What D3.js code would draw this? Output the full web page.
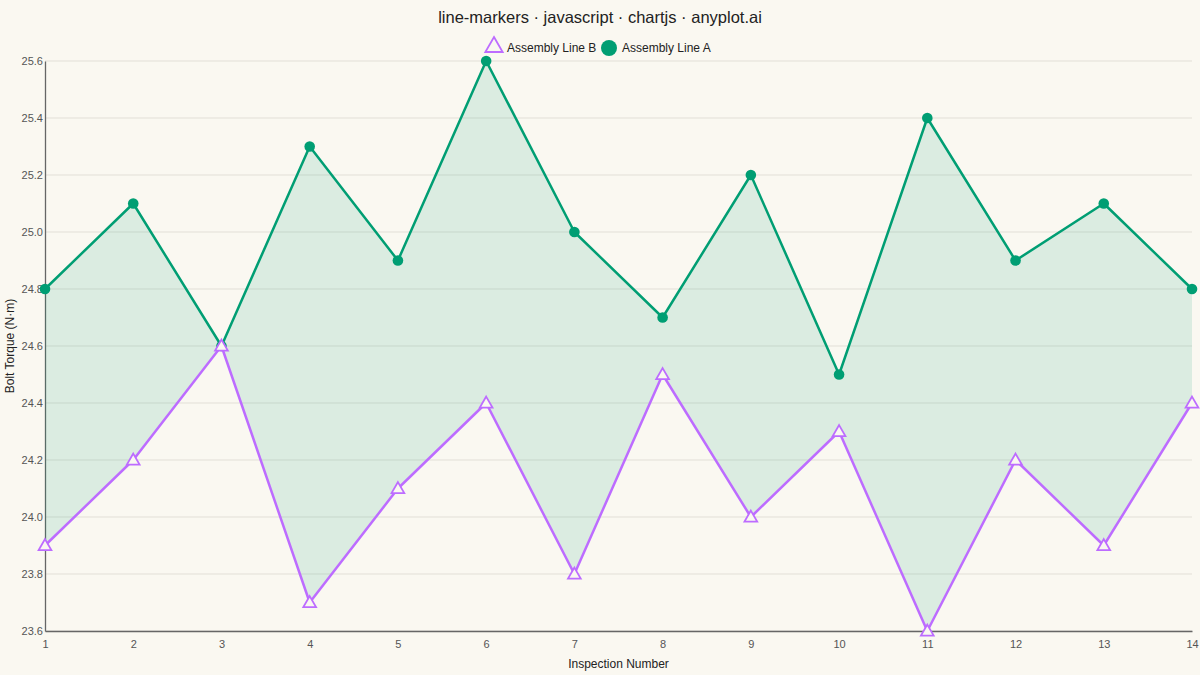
<!DOCTYPE html>
<html><head><meta charset="utf-8">
<script src="https://cdn.jsdelivr.net/npm/d3@7"></script>
<style>html,body{margin:0;padding:0;background:#FAF8F1;}svg{display:block;font-family:"Liberation Sans",Arial,sans-serif;}</style>
</head><body>
<svg id="c" width="1200" height="675"></svg>
<script>
const inspections = [1,2,3,4,5,6,7,8,9,10,11,12,13,14];
const lineA = [24.8,25.1,24.6,25.3,24.9,25.6,25.0,24.7,25.2,24.5,25.4,24.9,25.1,24.8];
const lineB = [23.9,24.2,24.6,23.7,24.1,24.4,23.8,24.5,24.0,24.3,23.6,24.2,23.9,24.4];
const yTicks = [23.6,23.8,24.0,24.2,24.4,24.6,24.8,25.0,25.2,25.4,25.6];
const seriesNames = ["Assembly Line B","Assembly Line A"];
const colA = "#009E73", colB = "#BD6CFF", bg = "#FAF8F1";

const svg = d3.select("#c");
const m = {l:45, r:1192, t:61, b:631};
const x = d3.scaleLinear().domain([1,14]).range([m.l, m.r]);
const y = d3.scaleLinear().domain([23.6,25.6]).range([m.b, m.t]);

svg.append("rect").attr("width",1200).attr("height",675).attr("fill",bg);

// title
svg.append("text").attr("x",600).attr("y",23).attr("text-anchor","middle")
  .attr("font-size",16.5).attr("fill","#222").text("line-markers · javascript · chartjs · anyplot.ai");

// grid
svg.append("g").selectAll("line").data(yTicks).join("line")
  .attr("x1",m.l).attr("x2",m.r).attr("y1",d=>y(d)).attr("y2",d=>y(d))
  .attr("stroke","#E2DFD7").attr("stroke-width",1);

// y axis
const ya = svg.append("g").attr("transform",`translate(${m.l},0)`)
  .call(d3.axisLeft(y).tickValues(yTicks).tickFormat(d3.format(".1f")).tickSize(0).tickPadding(2));
ya.select(".domain").attr("stroke","#666").attr("stroke-width",1.3);
ya.selectAll("text").attr("font-size",11).attr("fill","#555").attr("font-family","Liberation Sans, Arial, sans-serif");

// x axis
const xa = svg.append("g").attr("transform",`translate(0,${m.b})`)
  .call(d3.axisBottom(x).tickValues(inspections).tickFormat(d3.format("d")).tickSize(0).tickPadding(9));
xa.select(".domain").attr("stroke","#666").attr("stroke-width",1.3);
xa.selectAll("text").attr("font-size",11).attr("fill","#555").attr("font-family","Liberation Sans, Arial, sans-serif");

// axis titles
svg.append("text").attr("x",(m.l+m.r)/2).attr("y",668).attr("text-anchor","middle")
  .attr("font-size",12).attr("fill","#222").text("Inspection Number");
svg.append("text").attr("transform",`translate(14,${(m.t+m.b)/2}) rotate(-90)`).attr("text-anchor","middle")
  .attr("font-size",12).attr("fill","#222").text("Bolt Torque (N·m)");

// fill between
const pts = inspections.map((d,i)=>({x:d,a:lineA[i],b:lineB[i]}));
svg.append("path").datum(pts)
  .attr("d", d3.area().x(d=>x(d.x)).y0(d=>y(d.b)).y1(d=>y(d.a)))
  .attr("fill", colA).attr("fill-opacity",0.12);

const line = d3.line().x(d=>x(d[0])).y(d=>y(d[1]));
// line A
svg.append("path").datum(inspections.map((d,i)=>[d,lineA[i]])).attr("d",line)
  .attr("fill","none").attr("stroke",colA).attr("stroke-width",2.5).attr("stroke-linejoin","round");
svg.append("g").selectAll("circle").data(inspections.map((d,i)=>[d,lineA[i]])).join("circle")
  .attr("cx",d=>x(d[0])).attr("cy",d=>y(d[1])).attr("r",5.3).attr("fill",colA);

// line B
svg.append("path").datum(inspections.map((d,i)=>[d,lineB[i]])).attr("d",line)
  .attr("fill","none").attr("stroke",colB).attr("stroke-width",2.5).attr("stroke-linejoin","round");
const tri = d3.symbol().type(d3.symbolTriangle).size(70);
svg.append("g").selectAll("path").data(inspections.map((d,i)=>[d,lineB[i]])).join("path")
  .attr("d",tri).attr("transform",d=>`translate(${x(d[0])},${y(d[1])+1})`)
  .attr("fill",bg).attr("stroke",colB).attr("stroke-width",1.8);

// legend
const lg = svg.append("g");
lg.append("path").attr("d",d3.symbol().type(d3.symbolTriangle).size(130)())
  .attr("transform","translate(494,47)").attr("fill",bg).attr("stroke",colB).attr("stroke-width",1.8);
lg.append("text").attr("x",507).attr("y",52).attr("font-size",12).attr("fill","#222").text(seriesNames[0]);
lg.append("circle").attr("cx",609).attr("cy",48).attr("r",8).attr("fill",colA);
lg.append("text").attr("x",622).attr("y",52).attr("font-size",12).attr("fill","#222").text(seriesNames[1]);
</script>
</body></html>
